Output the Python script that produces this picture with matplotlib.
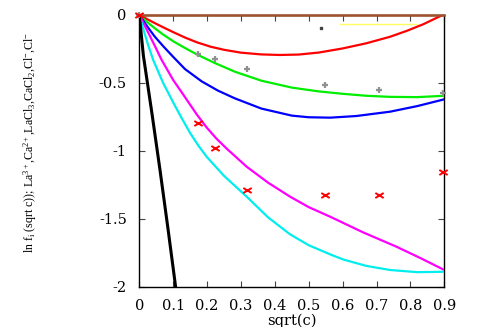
import numpy as np
import matplotlib.pyplot as plt
from matplotlib.path import Path

# activity coefficient curves
x_red = [0, 0.01, 0.025, 0.046, 0.07, 0.1, 0.135, 0.17, 0.21, 0.25, 0.30, 0.36, 0.415, 0.47, 0.53, 0.60, 0.67, 0.74, 0.79, 0.838, 0.89, 0.9]
y_red = [0, -0.014, -0.035, -0.062, -0.092, -0.128, -0.168, -0.203, -0.235, -0.258, -0.279, -0.292, -0.296, -0.293, -0.278, -0.248, -0.21, -0.162, -0.118, -0.07, -0.008, 0.006]

x_green = [0, 0.01, 0.025, 0.046, 0.07, 0.1, 0.135, 0.17, 0.22, 0.282, 0.36, 0.45, 0.53, 0.602, 0.67, 0.74, 0.82, 0.9]
y_green = [0, -0.024, -0.058, -0.10, -0.145, -0.195, -0.245, -0.292, -0.352, -0.419, -0.485, -0.536, -0.564, -0.582, -0.596, -0.604, -0.606, -0.596]

x_blue = [0, 0.01, 0.025, 0.046, 0.07, 0.1, 0.135, 0.184, 0.232, 0.282, 0.36, 0.45, 0.50, 0.563, 0.64, 0.74, 0.82, 0.9]
y_blue = [0, -0.038, -0.092, -0.162, -0.23, -0.31, -0.40, -0.49, -0.558, -0.615, -0.69, -0.742, -0.754, -0.757, -0.745, -0.713, -0.672, -0.622]

x_mag = [0, 0.01, 0.025, 0.045, 0.066, 0.10, 0.140, 0.17, 0.199, 0.228, 0.258, 0.317, 0.38, 0.445, 0.50, 0.563, 0.66, 0.759, 0.83, 0.9]
y_mag = [0, -0.052, -0.125, -0.225, -0.333, -0.48, -0.625, -0.735, -0.83, -0.912, -0.985, -1.118, -1.235, -1.338, -1.415, -1.485, -1.60, -1.706, -1.79, -1.877]

x_cyan = [0, 0.01, 0.025, 0.041, 0.07, 0.100, 0.125, 0.150, 0.175, 0.199, 0.25, 0.317, 0.38, 0.445, 0.50, 0.563, 0.602, 0.67, 0.74, 0.82, 0.9]
y_cyan = [0, -0.09, -0.215, -0.333, -0.50, -0.645, -0.76, -0.87, -0.965, -1.045, -1.185, -1.338, -1.49, -1.615, -1.695, -1.762, -1.80, -1.847, -1.877, -1.893, -1.89]

x_black = [0, 0.012, 0.037, 0.061, 0.085, 0.105, 0.112]
y_black = [0, -0.30, -0.72, -1.14, -1.58, -1.96, -2.1]

# measured points
x_pts = [0, 0.172, 0.223, 0.318, 0.548, 0.708, 0.895]
y_gray = [0, -0.291, -0.328, -0.40, -0.515, -0.554, -0.578]
y_redpts = [0, -0.799, -0.983, -1.291, -1.326, -1.326, -1.154]

# key leftovers near the top
key_line_x = [0.592, 0.82]
key_line_y = [-0.071, -0.071]
key_dot = (0.536, -0.10)

xticks = [0, 0.1, 0.2, 0.3, 0.4, 0.5, 0.6, 0.7, 0.8, 0.9]
yticks = [0, -0.5, -1, -1.5, -2]

plt.rcParams['mathtext.fontset'] = 'custom'
plt.rcParams['mathtext.rm'] = 'Liberation Serif'
plt.rcParams['mathtext.it'] = 'Liberation Serif:italic'

fig = plt.figure(figsize=(4.91, 3.27), dpi=100)
ax = fig.add_axes([0.2837, 0.1232, 0.6212, 0.8318])

ax.plot(key_line_x, key_line_y, color='#ffff60', lw=1, zorder=1)
ax.plot(x_red, y_red, color='#ff0000', lw=1.6, zorder=3)
ax.plot(x_green, y_green, color='#00ee00', lw=1.6, zorder=3)
ax.plot(x_blue, y_blue, color='#0000ff', lw=1.6, zorder=3)
ax.plot(x_mag, y_mag, color='#ff00ff', lw=1.6, zorder=3)
ax.plot(x_cyan, y_cyan, color='#00eeee', lw=1.6, zorder=3)
ax.plot([0, 0.9], [0, 0], color='#a0522d', lw=1.8, zorder=4, clip_on=False)
ax.plot(x_black, y_black, color='black', lw=2.2, zorder=3)

ax.plot(x_pts, y_gray, ls='none', marker='+', ms=5, mew=1.6, color='#909090', zorder=5, clip_on=False)
xmark = Path([(-1, -0.6), (1, 0.6), (-1, 0.6), (1, -0.6)],
             [Path.MOVETO, Path.LINETO, Path.MOVETO, Path.LINETO])
ax.plot(x_pts, y_redpts, ls='none', marker=xmark, ms=6, mew=1.4, color='#ff0000', zorder=6, clip_on=False)
ax.plot([key_dot[0]], [key_dot[1]], ls='none', marker='s', ms=1.5, color='#404040', zorder=5)

ax.set_xlim(0, 0.9)
ax.set_ylim(-2, 0)
ax.set_xticks(xticks)
ax.set_xticklabels(['0' if v == 0 else f'{v:g}' for v in xticks])
ax.set_yticks(yticks)
ax.set_yticklabels([f'{v:g}' for v in yticks])
ax.tick_params(direction='in', length=4, width=0.8, color='#444444',
               top=True, right=True, labelsize=10.5, pad=9)
for lab in ax.get_xticklabels() + ax.get_yticklabels():
    lab.set_family('DejaVu Serif')

for s in ax.spines.values():
    s.set_linewidth(1.0)
    s.set_color('black')

ax.set_xlabel('sqrt(c)', family='DejaVu Serif', fontsize=10.5, labelpad=0)
ax.set_ylabel(r'ln f$_\mathrm{i}$ (sqrt c)); La$^\mathrm{3+}$,Ca$^\mathrm{2+}$,LaCl$_\mathrm{3}$,CaCl$_\mathrm{2}$,Cl$^\mathrm{-}$,Cl$^\mathrm{-}$',
              family='Liberation Serif', fontsize=8.6)
ax.yaxis.set_label_coords(-0.33, 0.532)

fig.savefig('out.png', dpi=100)
